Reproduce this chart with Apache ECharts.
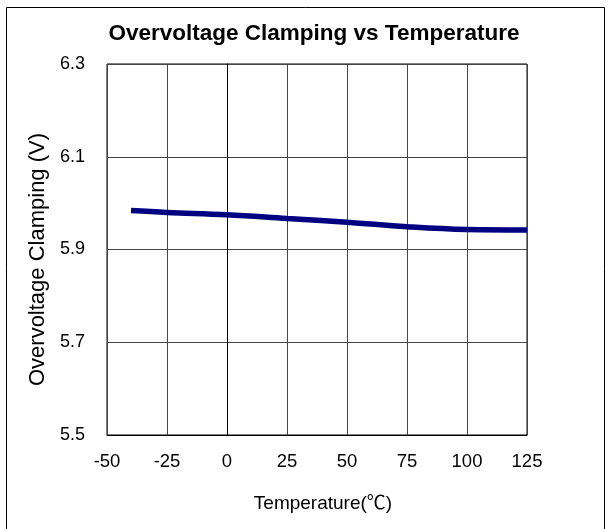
<!DOCTYPE html>
<html>
<head>
<meta charset="utf-8">
<script src="https://cdn.jsdelivr.net/npm/echarts@6/dist/echarts.min.js"></script>
<style>
html,body{margin:0;padding:0;background:#fff;}
#c{width:610px;height:529px;}
</style>
</head>
<body>
<div id="c"></div>
<script>
const temperatures = [-40, -25, 0, 25, 50, 75, 100, 125];
const clampingV = [5.984, 5.980, 5.975, 5.967, 5.959, 5.949, 5.943, 5.942];
const xTicks = [-50, -25, 0, 25, 50, 75, 100, 125];
const yTicks = [5.5, 5.7, 5.9, 6.1, 6.3];
const titleText = 'Overvoltage Clamping vs Temperature';
const xName = 'Temperature(℃)';
const yName = 'Overvoltage Clamping (V)';

const FONT = "'Liberation Sans', Arial, 'Noto Sans CJK SC', sans-serif";
const chart = echarts.init(document.getElementById('c'), null, {renderer: 'canvas'});
chart.setOption({
  animation: false,
  backgroundColor: '#fff',
  graphic: [{
    type: 'rect',
    shape: {x: 6.5, y: 7.5, width: 598, height: 530},
    style: {fill: 'none', stroke: '#000', lineWidth: 1}, silent: true
  }],
  title: {
    text: titleText, left: 309, top: 18, textAlign: 'center',
    textStyle: {fontFamily: FONT, fontSize: 22.5, fontWeight: 'bold', color: '#000'}
  },
  grid: {left: 107, right: 83, top: 64, bottom: 94, show: true, borderColor: '#000', borderWidth: 1},
  xAxis: {
    type: 'value', min: -50, max: 125, interval: 25,
    name: xName, nameLocation: 'middle', nameGap: 59,
    nameTextStyle: {fontFamily: FONT, fontSize: 19, color: '#000', padding: [0, 0, 0, 12]},
    axisLine: {show: true, onZero: false, lineStyle: {color: '#000'}},
    axisTick: {show: false},
    axisLabel: {fontFamily: FONT, fontSize: 18.5, color: '#000', margin: 18,
      formatter: v => xTicks.includes(v) ? String(v) : ''},
    splitLine: {show: true, lineStyle: {color: '#444', width: 1}}
  },
  yAxis: {
    type: 'value', min: 5.5, max: 6.3, interval: 0.2,
    name: yName, nameLocation: 'middle', nameGap: 57, nameRotate: 90,
    nameTextStyle: {fontFamily: FONT, fontSize: 22, color: '#000', padding: [0, 20, 0, 0]},
    axisLine: {show: true, lineStyle: {color: '#000'}},
    axisTick: {show: false},
    axisLabel: {fontFamily: FONT, fontSize: 18, color: '#000', margin: 22,
      formatter: v => { const t = yTicks.find(y => Math.abs(y - v) < 1e-6); return t !== undefined ? t.toFixed(1) : ''; }},
    splitLine: {show: true, lineStyle: {color: '#444', width: 1}}
  },
  series: [{
    type: 'line', data: temperatures.map((t, i) => [t, clampingV[i]]),
    smooth: 0.4, showSymbol: false, symbol: 'none',
    lineStyle: {color: '#000080', width: 5.5}
  }]
});
</script>
</body>
</html>
